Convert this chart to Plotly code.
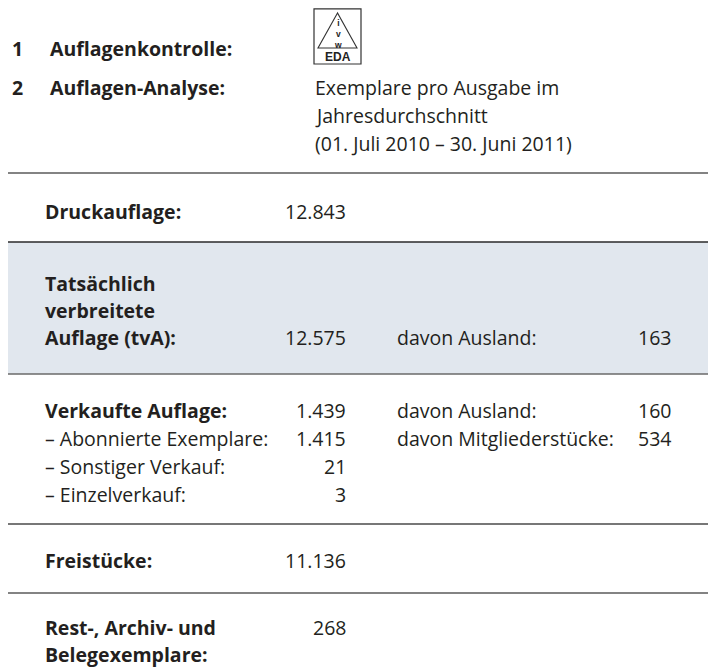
import plotly.graph_objects as go

# ---- data ----
header_nums = ["1", "2"]
header_labels = ["Auflagenkontrolle:", "Auflagen-Analyse:"]
analyse_lines = ["Exemplare pro Ausgabe im", "Jahresdurchschnitt",
                 "(01. Juli 2010 – 30. Juni 2011)"]

main_labels = ["Druckauflage:", "Tatsächlich", "verbreitete", "Auflage (tvA):",
               "Verkaufte Auflage:", "– Abonnierte Exemplare:", "– Sonstiger Verkauf:",
               "– Einzelverkauf:", "Freistücke:", "Rest-, Archiv- und", "Belegexemplare:"]
main_bold = [True, True, True, True, True, False, False, False, True, True, True]
main_values = ["12.843", "", "", "12.575", "1.439", "1.415", "21", "3", "11.136", "268", ""]
davon_labels = ["", "", "", "davon Ausland:", "davon Ausland:", "davon Mitgliederstücke:",
                "", "", "", "", ""]
davon_values = ["", "", "", "163", "160", "534", "", "", "", "", ""]

# ---- layout (page pixel coordinates; the page has an 8px body margin) ----
PW, PH = 716, 667
OFF = 8
FONT = "Open Sans"
FS = 19.5
COL = "#231f20"
row_y = [211, 283, 310, 337, 410, 438, 466, 494, 560, 627, 654]
rule_y = [173, 242, 374, 524, 593]
rule_col = ["#5a5a5a", "#2a2a2a", "#6a6a6a", "#4a4a4a", "#5a5a5a"]

fig = go.Figure()
fig.add_trace(go.Scatter(x=[OFF, PW], y=[OFF, PH], mode="markers",
                         marker=dict(opacity=0), hoverinfo="skip", showlegend=False))

shapes = []
shapes.append(dict(type="rect", x0=8, x1=PW, y0=242, y1=374, fillcolor="#e1e7ee",
                   line=dict(width=0), layer="below"))
for ry, rc in zip(rule_y, rule_col):
    shapes.append(dict(type="line", x0=8, x1=PW, y0=ry, y1=ry,
                       line=dict(color=rc, width=1.5)))
# logo
shapes.append(dict(type="rect", x0=314, x1=361, y0=8.8, y1=64,
                   line=dict(color="#333", width=1.2), fillcolor="white"))
shapes.append(dict(type="path", path="M 337.5 13 L 318 48 L 357 48 Z",
                   line=dict(color="#333", width=1.1)))

ann = []
def txt(x, y, s, anchor="left", bold=False, size=FS, color=COL, family=FONT):
    ann.append(dict(x=x, y=y, xref="x", yref="y", text=f"<b>{s}</b>" if bold else s,
                    showarrow=False, xanchor=anchor, yanchor="middle",
                    font=dict(family=family, size=size, color=color)))

hy = [48, 87]
for i in range(2):
    txt(10, hy[i], header_nums[i], bold=True)
    txt(48, hy[i], header_labels[i], bold=True)
for i, s in enumerate(analyse_lines):
    txt(313, 87 + 28 * i, s)

# logo letters
txt(337.5, 34, "i<br>v<br>w", anchor="center", bold=True, size=8.5, color="#222",
    family="Liberation Sans")
txt(337.5, 57, "EDA", anchor="center", bold=True, size=12, color="#222",
    family="Liberation Sans")

for i, y in enumerate(row_y):
    txt(43, y, main_labels[i], bold=main_bold[i])
    if main_values[i]:
        txt(348, y, main_values[i], anchor="right")
    if davon_labels[i]:
        txt(395, y, davon_labels[i])
    if davon_values[i]:
        txt(673, y, davon_values[i], anchor="right")

fig.update_layout(
    width=PW - OFF, height=PH - OFF, margin=dict(l=0, r=0, t=0, b=0),
    paper_bgcolor="white", plot_bgcolor="white",
    xaxis=dict(range=[OFF, PW], visible=False, fixedrange=True),
    yaxis=dict(range=[PH, OFF], visible=False, fixedrange=True),
    shapes=shapes, annotations=ann, showlegend=False,
)
fig.write_html("out.html", config={"displayModeBar": False})
